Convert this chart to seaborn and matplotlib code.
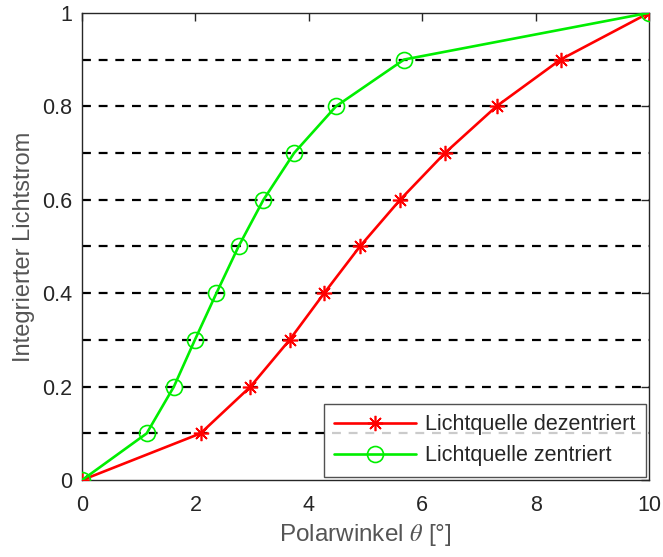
import matplotlib
matplotlib.use("Agg")
import matplotlib.pyplot as plt
import seaborn as sns
import pandas as pd

# Integrated luminous flux vs. polar angle for two source positions
flux_levels = [0.0, 0.1, 0.2, 0.3, 0.4, 0.5, 0.6, 0.7, 0.8, 0.9, 1.0]
angle_decentered = [0.0, 2.09, 2.97, 3.66, 4.27, 4.90, 5.61, 6.40, 7.31, 8.44, 10.0]
angle_centered = [0.0, 1.14, 1.62, 1.99, 2.37, 2.76, 3.20, 3.74, 4.48, 5.68, 10.0]

label_decentered = "Lichtquelle dezentriert"
label_centered = "Lichtquelle zentriert"
reference_levels = [0.1, 0.2, 0.3, 0.4, 0.5, 0.6, 0.7, 0.8, 0.9]

x_ticks = [0, 2, 4, 6, 8, 10]
y_ticks = [0, 0.2, 0.4, 0.6, 0.8, 1]
y_tick_labels = ["0", "0.2", "0.4", "0.6", "0.8", "1"]

sns.set_theme(style="white")
plt.rcParams["font.family"] = ["Liberation Sans", "DejaVu Sans"]
plt.rcParams["mathtext.fontset"] = "stix"

df_dec = pd.DataFrame({"theta": angle_decentered, "flux": flux_levels})
df_cen = pd.DataFrame({"theta": angle_centered, "flux": flux_levels})

fig = plt.figure(figsize=(6.63, 5.57), dpi=100)
ax = fig.add_axes([0.1237, 0.138, 0.8553, 0.839])

# horizontal reference lines at each flux step
for lvl in reference_levels:
    ax.plot([0, 10], [lvl, lvl], color="black", linewidth=1.6,
            dashes=(4, 3.5), zorder=1)

sns.lineplot(data=df_dec, x="theta", y="flux", ax=ax, sort=False,
             estimator=None, color="#ff0000", linewidth=1.9,
             marker=(8, 2, 0), markersize=11, markeredgewidth=1.2,
             markeredgecolor="#ff0000", label=label_decentered, zorder=3)
sns.lineplot(data=df_cen, x="theta", y="flux", ax=ax, sort=False,
             estimator=None, color="#00ee00", linewidth=1.9,
             marker="o", markersize=11.5, markerfacecolor="none",
             markeredgewidth=1.2, markeredgecolor="#00ee00",
             label=label_centered, zorder=3)

ax.set_xlim(0, 10)
ax.set_ylim(0, 1)
ax.set_xticks(x_ticks)
ax.set_xticklabels([str(v) for v in x_ticks])
ax.set_yticks(y_ticks)
ax.set_yticklabels(y_tick_labels)

spine_color = "#262626"
for s in ax.spines.values():
    s.set_visible(True)
    s.set_color(spine_color)
    s.set_linewidth(1.0)

ax.tick_params(axis="both", which="major", direction="in", length=6,
               width=1.0, color=spine_color, labelsize=15.5,
               labelcolor="#262626", top=True, right=True)
ax.tick_params(axis="x", pad=11)
ax.tick_params(axis="y", pad=7)

ax.set_xlabel(r"Polarwinkel $\theta$ [°]", fontsize=17.5, color="#555555",
              labelpad=4)
ax.set_ylabel("Integrierter Lichtstrom", fontsize=17, color="#555555",
              labelpad=5)

leg = ax.legend(loc="lower right", fontsize=15.5, frameon=True,
                fancybox=False, borderaxespad=0.15, handlelength=3.8,
                borderpad=0.5, labelspacing=0.45, handletextpad=0.4)
leg.get_frame().set_edgecolor("#262626")
leg.get_frame().set_linewidth(1.0)
for t in leg.get_texts():
    t.set_color("#262626")

fig.savefig("out.png", dpi=100)
